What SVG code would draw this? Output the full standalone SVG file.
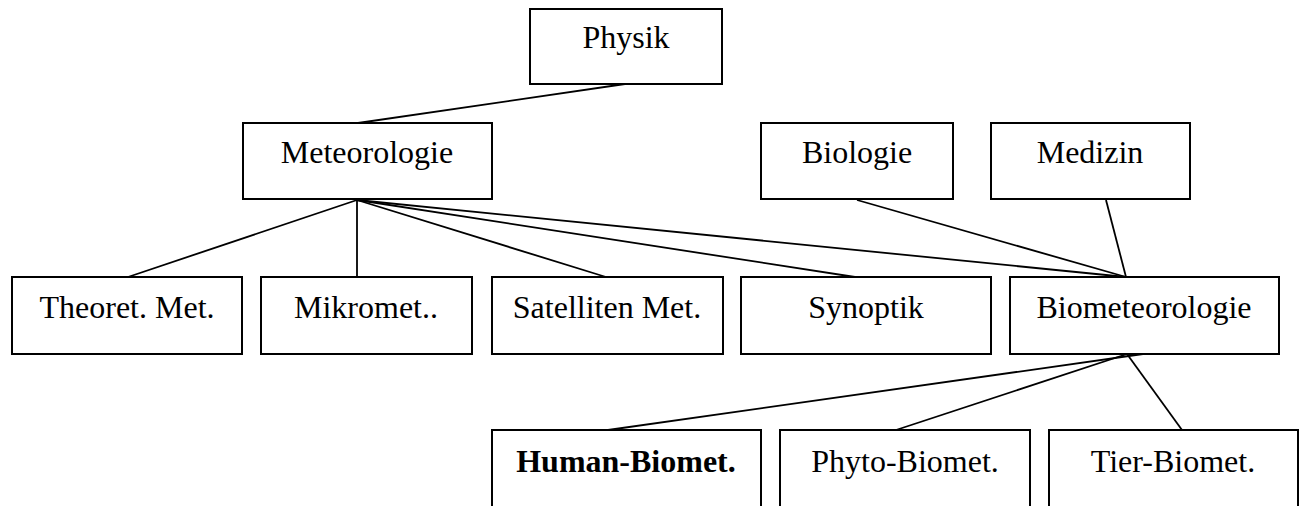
<svg xmlns="http://www.w3.org/2000/svg" width="1300" height="506" viewBox="0 0 1300 506">
<style>
.box{fill:#fff;stroke:#000;stroke-width:2}
.lbl{font-family:"Liberation Serif","Times New Roman",serif;font-size:32px;fill:#000;text-anchor:middle}
.b{font-weight:bold}
.con line{stroke:#000;stroke-width:1.8}
</style>
<rect width="1300" height="506" fill="#fff"/>
<g id="connectors" class="con">
<line x1="625" y1="84" x2="358" y2="123"/>
<line x1="357" y1="200" x2="128" y2="277"/>
<line x1="357" y1="200" x2="357" y2="277"/>
<line x1="357" y1="200" x2="606" y2="277"/>
<line x1="357" y1="200" x2="855" y2="277"/>
<line x1="357" y1="200" x2="1126" y2="277"/>
<line x1="857" y1="200" x2="1126" y2="277"/>
<line x1="1106" y1="200" x2="1126" y2="277"/>
<line x1="1143" y1="354" x2="608" y2="430"/>
<line x1="1127" y1="354" x2="896" y2="430"/>
<line x1="1127" y1="354" x2="1182" y2="430"/>
</g>
<g id="physik"><rect class="box" x="530" y="9" width="192" height="75"/><text class="lbl" x="626" y="48">Physik</text></g>
<g id="meteorologie"><rect class="box" x="243" y="123" width="249" height="76"/><text class="lbl" x="367" y="163">Meteorologie</text></g>
<g id="biologie"><rect class="box" x="761" y="123" width="192" height="76"/><text class="lbl" x="857" y="163">Biologie</text></g>
<g id="medizin"><rect class="box" x="991" y="123" width="199" height="76"/><text class="lbl" x="1090" y="163">Medizin</text></g>
<g id="theoret"><rect class="box" x="12" y="277" width="230" height="77"/><text class="lbl" x="127" y="318">Theoret. Met.</text></g>
<g id="mikromet"><rect class="box" x="261" y="277" width="211" height="77"/><text class="lbl" x="366" y="318">Mikromet..</text></g>
<g id="satelliten"><rect class="box" x="492" y="277" width="231" height="77"/><text class="lbl" x="607" y="318">Satelliten Met.</text></g>
<g id="synoptik"><rect class="box" x="741" y="277" width="250" height="77"/><text class="lbl" x="866" y="318">Synoptik</text></g>
<g id="biometeorologie"><rect class="box" x="1010" y="277" width="269" height="77"/><text class="lbl" x="1144" y="318">Biometeorologie</text></g>
<g id="human"><rect class="box" x="492" y="430" width="269" height="90"/><text class="lbl b" x="626" y="472">Human-Biomet.</text></g>
<g id="phyto"><rect class="box" x="780" y="430" width="250" height="90"/><text class="lbl" x="905" y="472">Phyto-Biomet.</text></g>
<g id="tier"><rect class="box" x="1049" y="430" width="249" height="90"/><text class="lbl" x="1173" y="472">Tier-Biomet.</text></g>
</svg>
